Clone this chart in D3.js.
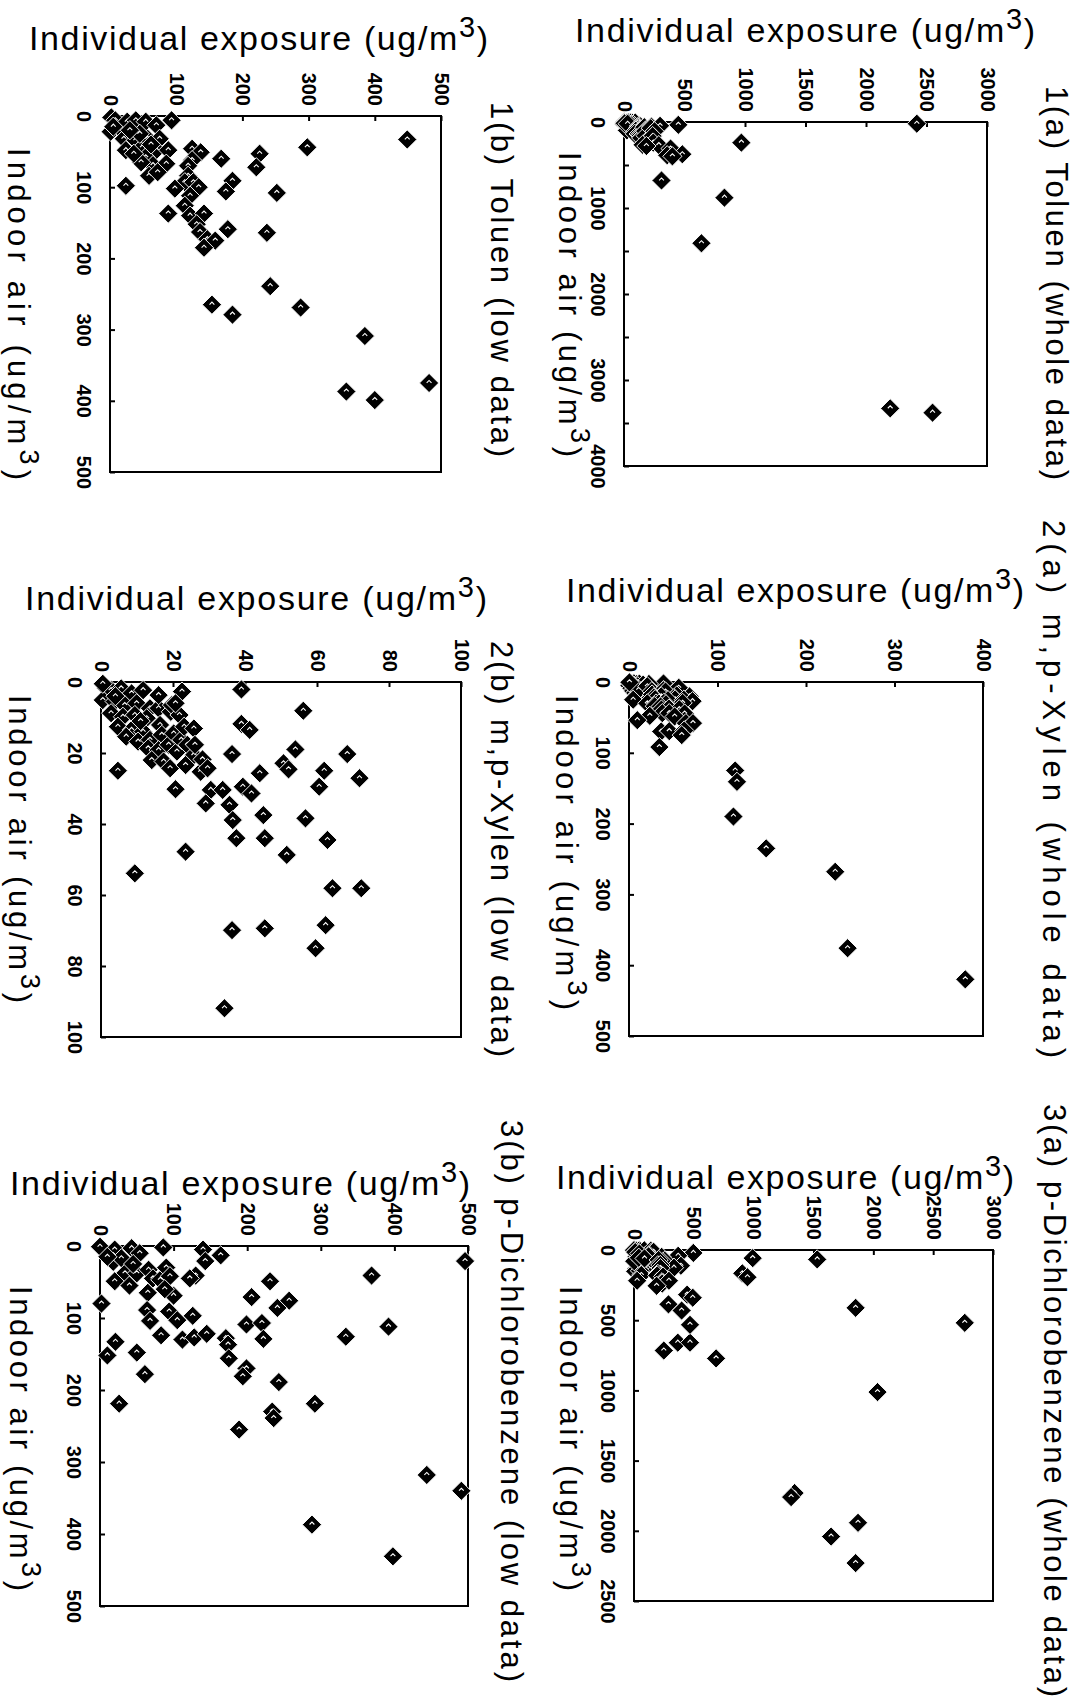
<!DOCTYPE html>
<html><head><meta charset="utf-8">
<script src="https://cdn.jsdelivr.net/npm/d3@7"></script>
<style>
html,body{margin:0;padding:0;background:#fff;}
svg{display:block;}
text{font-family:"Liberation Sans",Arial,"DejaVu Sans",sans-serif;fill:#000;}
</style></head><body>
<svg id="c" width="1087" height="1700"></svg>
<script>
// ---------- DATA: each point is [indoor air, individual exposure] (ug/m3) ----------
const toluenLow = [[2,2],[6,8],[22,1],[18,16],[8,26],[6,39],[8,54],[13,70],[6,93],[32,21],[34,39],[48,24],[44,49],[32,57],[32,75],[48,70],[48,88],[58,54],[69,65],[67,85],[84,59],[79,72],[65,47],[53,36],[98,24],[15,5],[25,45],[40,62],[20,30],
[46,124],[51,137],[62,124],[70,118],[84,118],[93,113],[93,126],[100,134],[102,98],[112,121],[126,113],[137,88],[140,121],[137,142],[152,131],[163,136],[173,147],[175,159],[185,142],
[60,168],[91,185],[106,175],[159,178],[53,226],[72,221],[33,449],[44,298],[108,252],[164,237],[239,242],[269,288],[265,154],[279,185],[309,385],[375,482],[387,357],[399,400]];
const toluenHighExtra = [[20,2420],[240,970],[680,310],[880,830],[1410,640],[3330,2200],[3380,2550]];

const xylenLow = [[1.8,1.4],[2.3,2.8],[1.8,5.6],[3.2,8.5],[2.3,11.7],[5.1,0.5],[5.5,3.8],[6.5,6.6],[6,9.9],[7.4,13.6],[8.8,2.8],[9.8,6.1],[9.3,9.4],[10.2,12.7],[7.4,16],[12.1,16.4],[12.6,4.7],[13.5,8.5],[14,11.7],[15.4,7],[16.8,10.3],[16.3,13.6],[14.9,16.9],[18.7,13.1],[19.2,16],[17.7,18.8],[14.5,20.2],[19.6,21.1],[22,14.1],[22.4,17.4],[24.3,19.2],[16.3,22.3],[8.4,19.4],[6.5,19.7],[9.3,21.8],[3.7,16],[12.6,23.1],[17.7,24],[20.6,25.8],[23.4,23.5],[25.3,27.7],[4,4],[11,11],[0.5,0.5],
[2.1,39],[2.7,22.5],[8.1,56.2],[6,20.7],[13.1,25.8],[11.8,39],[13.5,41.3],[17.7,26.1],[20.3,36.4],[19,54],[20.3,68.4],[21.8,28.2],[24.3,29.6],[22.9,50.7],[24.6,52.1],[25.7,44.1],[25,62],[27.1,71.8],[29.5,60.6],[25,4.7],[30.2,20.7],[30.4,30.5],[30.4,33.8],[29.5,39.4],[31.4,41.8],[34.2,29.1],[34.6,35.7],[38.9,36.6],[37.5,45.1],[38.4,56.8],[44,37.6],[44,45.5],[44.5,62.9],[47.8,23.5],[48.7,51.6],[53.9,9.4],[58.1,64.3],[58.1,72.3],[69.9,36.4],[69.4,45.5],[68.5,62.4],[75,59.6],[91.9,34.3]];
const xylenHighExtra = [[125,120],[141,122],[190,118],[235,155],[268,233],[376,247],[420,380]];

const dcbLow = [[1,0],[5,20],[3,43],[10,54],[22,18],[17,29],[38,34],[49,20],[38,50],[33,66],[45,72],[47,82],[30,90],[2,86],[42,95],[65,65],[69,100],[5,140],[21,143],[13,164],[41,130],[45,122],[89,64],[104,68],[91,94],[103,105],[97,126],[124,83],[130,112],[127,128],[122,145],[128,171],[137,174],[156,175],[133,21],[152,10],[148,50],[178,61],[80,2],[219,26],[15,10],[25,45],[55,40],[60,88],
[21,496],[41,369],[49,231],[76,257],[86,241],[71,206],[112,392],[126,334],[109,199],[107,220],[129,222],[170,199],[181,194],[189,243],[230,234],[239,236],[219,292],[255,189],[318,444],[340,491],[387,288],[431,398]];
const dcbHighExtra = [[67,1531],[58,992],[166,905],[194,948],[412,1852],[519,2764],[1012,2035],[1731,1342],[1760,1313],[1943,1872],[2041,1647],[2230,1852],[772,686],[716,249],[660,366],[660,468],[533,468]];

const panelTitles = ["1(a) Toluen (whole data)","1(b) Toluen (low data)","2(a) m,p-Xylen (whole data)","2(b) m,p-Xylen (low data)","3(a) p-Dichlorobenzene (whole data)","3(b) p-Dichlorobenzene (low data)"];
const expAxisText = "Individual exposure (ug/m";
const indoorAxisText = "Indoor air (ug/m";

const ticksTolWholeExp = [0,500,1000,1500,2000,2500,3000];
const ticksTolWholeIn = [0,500,1000,1500,2000,2500,3000,3500,4000];
const ticksTolWholeInLabels = [0,1000,2000,3000,4000];
const ticksTolLow = [0,100,200,300,400,500];
const ticksXylWholeExp = [0,100,200,300,400];
const ticksXylWholeIn = [0,100,200,300,400,500];
const ticksXylLow = [0,20,40,60,80,100];
const ticksDcbWholeExp = [0,500,1000,1500,2000,2500,3000];
const ticksDcbWholeIn = [0,500,1000,1500,2000,2500];
const ticksDcbLow = [0,100,200,300,400,500];

// ---------- LAYOUT ----------
const panels = [
 {data: toluenLow.concat(toluenHighExtra), title: panelTitles[0], x0:624,x1:987,y0:122,y1:466, expD:[0,3000], inD:[0,4000], expT:ticksTolWholeExp, inT:ticksTolWholeIn, inL:ticksTolWholeInLabels,
  tX:1057,tY:86,tL:394, eX:575,eY:42,eL:460, iX:570,iY:152,iL:305},
 {data: toluenLow, title: panelTitles[1], x0:110,x1:441,y0:116,y1:472, expD:[0,500], inD:[0,500], expT:ticksTolLow, inT:ticksTolLow, inL:ticksTolLow,
  tX:502,tY:102,tL:355, eX:29,eY:50,eL:459, iX:19,iY:148,iL:332},
 {data: xylenLow.concat(xylenHighExtra), title: panelTitles[2], x0:629,x1:983,y0:682,y1:1036, expD:[0,400], inD:[0,500], expT:ticksXylWholeExp, inT:ticksXylWholeIn, inL:ticksXylWholeIn,
  tX:1054,tY:520,tL:538, eX:566,eY:602,eL:458, iX:567,iY:695,iL:315},
 {data: xylenLow, title: panelTitles[3], x0:101,x1:461,y0:682,y1:1037, expD:[0,100], inD:[0,100], expT:ticksXylLow, inT:ticksXylLow, inL:ticksXylLow,
  tX:502,tY:641,tL:416, eX:25,eY:610,eL:462, iX:20,iY:695,iL:308},
 {data: dcbLow.concat(dcbHighExtra), title: panelTitles[4], x0:634,x1:993,y0:1250,y1:1601, expD:[0,3000], inD:[0,2500], expT:ticksDcbWholeExp, inT:ticksDcbWholeIn, inL:ticksDcbWholeIn,
  tX:1055,tY:1104,tL:593, eX:556,eY:1189,eL:458, iX:571,iY:1286,iL:305},
 {data: dcbLow, title: panelTitles[5], x0:100,x1:468,y0:1246,y1:1606, expD:[0,500], inD:[0,500], expT:ticksDcbLow, inT:ticksDcbLow, inL:ticksDcbLow,
  tX:512,tY:1120,tL:562, eX:10,eY:1195,eL:460, iX:21,iY:1286,iL:305}
];

const svg = d3.select("#c");
svg.append("rect").attr("width",1087).attr("height",1700).attr("fill","#fff");
const sq = d3.symbol().type(d3.symbolSquare).size(185)();

panels.forEach(p => {
  const g = svg.append("g");
  const x = d3.scaleLinear().domain(p.expD).range([p.x0, p.x1]);
  const y = d3.scaleLinear().domain(p.inD).range([p.y0, p.y1]);

  // top axis (individual exposure)
  const gx = g.append("g").attr("transform", `translate(0,${p.y0})`)
    .call(d3.axisTop(x).tickValues(p.expT).tickSize(-5).tickFormat(d3.format("d")));
  gx.select(".domain").remove();
  gx.attr("font-size", 20).attr("font-family", '"Liberation Sans",Arial,sans-serif').attr("font-weight","bold");
  gx.selectAll(".tick line").attr("stroke","#000").attr("stroke-width",2);
  gx.selectAll(".tick text").attr("x",0).attr("y",0).attr("dy","0.35em")
    .attr("text-anchor","end").attr("transform","translate(0,-10) rotate(90)");

  // left axis (indoor air)
  const gy = g.append("g").attr("transform", `translate(${p.x0},0)`)
    .call(d3.axisLeft(y).tickValues(p.inT).tickSize(-5)
      .tickFormat(d => p.inL.includes(d) ? d3.format("d")(d) : ""));
  gy.select(".domain").remove();
  gy.attr("font-size", 20).attr("font-family", '"Liberation Sans",Arial,sans-serif').attr("font-weight","bold");
  gy.selectAll(".tick line").attr("stroke","#000").attr("stroke-width",2);
  gy.selectAll(".tick text").attr("x",0).attr("y",0).attr("dy","0.35em")
    .attr("text-anchor","middle").attr("transform","translate(-26,0) rotate(90)");

  // frame
  g.append("rect").attr("x",p.x0).attr("y",p.y0).attr("width",p.x1-p.x0).attr("height",p.y1-p.y0)
    .attr("fill","none").attr("stroke","#000").attr("stroke-width",2);

  // points
  const pts = g.append("g").selectAll("g").data(p.data).join("g")
    .attr("transform", d => `translate(${x(d[1])},${y(d[0])}) rotate(45)`);
  pts.append("path").attr("d", sq).attr("fill","#000").attr("stroke","#fff").attr("stroke-width",0.9);
  pts.append("path").attr("d","M-1.8,1.6 L-1.8,-1.8 L1.6,-1.8").attr("fill","none").attr("stroke","#fff").attr("stroke-width",1.1);

  // title (rotated)
  g.append("text").attr("transform",`translate(${p.tX},${p.tY}) rotate(90)`)
    .attr("dy","0.35em").attr("font-size",31)
    .attr("textLength",p.tL).attr("lengthAdjust","spacing").text(p.title);

  // exposure label (horizontal)
  const et = g.append("text").attr("x",p.eX).attr("y",p.eY).attr("font-size",34)
    .attr("textLength",p.eL).attr("lengthAdjust","spacing");
  et.append("tspan").text(expAxisText);
  et.append("tspan").attr("dy",-13).attr("font-size",29).text("3");
  et.append("tspan").attr("dy",13).text(")");

  // indoor label (rotated)
  const it = g.append("text").attr("transform",`translate(${p.iX},${p.iY}) rotate(90)`)
    .attr("dy","0.35em").attr("font-size",31)
    .attr("textLength",p.iL).attr("lengthAdjust","spacing");
  it.append("tspan").text(indoorAxisText);
  it.append("tspan").attr("dy",-12).attr("font-size",27).text("3");
  it.append("tspan").attr("dy",12).text(")");
});
</script>
</body></html>
